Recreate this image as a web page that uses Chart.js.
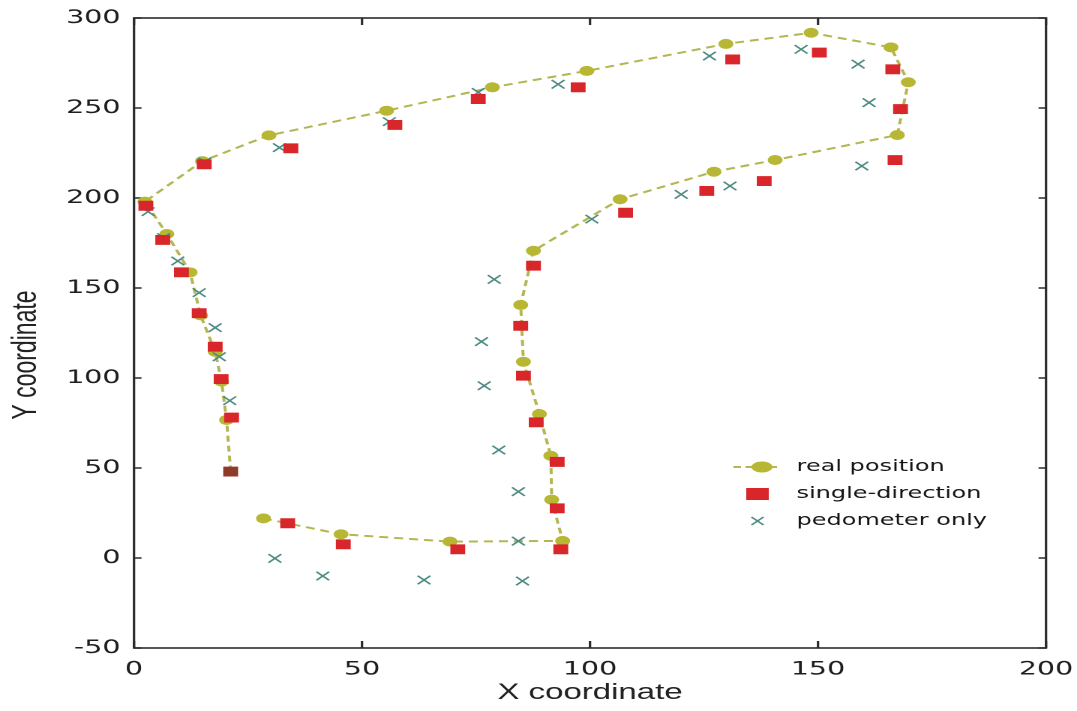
<!DOCTYPE html>
<html>
<head>
<meta charset="utf-8">
<script src="https://cdn.jsdelivr.net/npm/chart.js@4.4.1/dist/chart.umd.min.js"></script>
<style>
html, body { margin: 0; padding: 0; background: #fff; overflow: hidden; }
/* the reference picture is stretched sideways, so draw narrow and widen */
#wrap { position: absolute; left: 0; top: 0; width: 718px; height: 711px; transform: scaleX(1.5); transform-origin: 0 0; }
</style>
</head>
<body>
<div id="wrap"><canvas id="chart"></canvas></div>
<script>
var STRETCH = 1.5;

var seriesLabels = ['real position', 'single-direction', 'pedometer only'];
var xTitle = 'X coordinate';
var yTitle = 'Y coordinate';
var xTickValues = [0, 50, 100, 150, 200];
var yTickValues = [-50, 0, 50, 100, 150, 200, 250, 300];

// real path, in walking order
var realX = [21.2, 20.3, 19.2, 17.8, 14.6, 12.3, 7.2, 2.4, 15.0, 29.6, 55.4, 78.6, 99.3, 129.8, 148.5, 166.0,
             169.8, 167.4, 140.6, 127.2, 106.6, 87.6, 84.8, 85.4, 88.9, 91.4, 91.6, 94.0, 69.3, 45.4, 28.4];
var realY = [48, 76.7, 98, 114.6, 134.8, 158.7, 180, 198, 220.5, 234.8, 248.5, 261.5, 270.6, 285.6, 291.8, 283.7,
             264.3, 235, 221.1, 214.6, 199.3, 170.7, 140.6, 109, 80, 56.8, 32.4, 9.5, 9.1, 13.2, 22];

var singleX = [21.2, 21.4, 19.1, 17.8, 14.3, 10.4, 6.3, 2.6, 15.4, 34.4, 57.2, 75.5, 97.4, 131.3, 150.3, 166.4,
               168.1, 166.9, 138.2, 125.6, 107.8, 87.6, 84.8, 85.4, 88.2, 92.8, 92.8, 93.6, 71.0, 45.9, 33.7];
var singleY = [48, 78, 99.4, 117.4, 136, 158.7, 176.7, 195.7, 218.7, 227.6, 240.6, 255, 261.5, 277, 280.8, 271.5,
               249.4, 221.1, 209.4, 203.9, 191.8, 162.4, 129, 101.3, 75.4, 53.4, 27.6, 4.8, 4.8, 7.6, 19.3];

var pedoX = [21.2, 21.0, 18.7, 17.8, 14.3, 9.6, 6.5, 3.1, 15.5, 31.9, 56.0, 75.5, 93.0, 126.2, 146.3, 158.8,
             161.2, 159.6, 130.7, 120.0, 100.4, 79.0, 76.2, 76.8, 80.0, 84.3, 84.3, 85.2, 63.6, 41.4, 30.9];
var pedoY = [48, 87.4, 111.8, 128, 147.4, 165, 178, 192.4, 220, 228, 242.4, 258.7, 263.2, 278.9, 282.6, 274.4,
             253, 217.8, 206.7, 202, 188.3, 154.8, 120.2, 95.7, 60, 36.9, 9.4, -12.8, -12.2, -10, -0.2];

function points(xs, ys) {
    return xs.map(function (x, i) { return { x: x, y: ys[i] }; });
}

var frame = {
    id: 'frame',
    beforeDatasetsDraw: function (chart) {
        var a = chart.chartArea, ctx = chart.ctx;
        var xs = chart.scales.x, ys = chart.scales.y;
        ctx.save();
        ctx.strokeStyle = '#2b2b2b';
        ctx.lineWidth = 1.6;
        ctx.strokeRect(a.left, a.top, a.right - a.left, a.bottom - a.top);
        ctx.beginPath();
        xs.ticks.forEach(function (t) {
            var px = xs.getPixelForValue(t.value);
            ctx.moveTo(px, a.bottom); ctx.lineTo(px, a.bottom - 7);
            ctx.moveTo(px, a.top); ctx.lineTo(px, a.top + 7);
        });
        ys.ticks.forEach(function (t) {
            var py = ys.getPixelForValue(t.value);
            ctx.moveTo(a.left, py); ctx.lineTo(a.left + 5, py);
            ctx.moveTo(a.right, py); ctx.lineTo(a.right - 5, py);
        });
        ctx.stroke();

        // y title sits a bit below the axis middle in the reference
        ctx.save();
        ctx.translate(17.5, 355);
        ctx.rotate(-Math.PI / 2);
        ctx.fillStyle = '#222';
        ctx.font = '23px "Liberation Sans"';
        ctx.textAlign = 'center';
        ctx.textBaseline = 'middle';
        ctx.fillText(yTitle, 0, 0);
        ctx.restore();
        ctx.restore();
    },
    afterDraw: function (chart) {
        var ctx = chart.ctx, ds = chart.data.datasets;
        var rows = [467, 494, 521];
        ctx.save();
        // real position: dashed line with marker
        ctx.strokeStyle = ds[0].borderColor;
        ctx.lineWidth = 2;
        ctx.setLineDash([5, 3]);
        ctx.beginPath();
        ctx.moveTo(489, rows[0]); ctx.lineTo(519, rows[0]);
        ctx.stroke();
        ctx.setLineDash([]);
        ctx.fillStyle = ds[0].pointBackgroundColor;
        ctx.beginPath();
        ctx.ellipse(508, rows[0], 7, 5.5, 0, 0, Math.PI * 2);
        ctx.fill();
        // single-direction
        ctx.fillStyle = '#d8262b';
        ctx.fillRect(505 - 7.5, rows[1] - 6, 15, 12);
        // pedometer only
        ctx.strokeStyle = ds[2].pointBorderColor;
        ctx.lineWidth = 1.3;
        ctx.beginPath();
        ctx.moveTo(501, rows[2] - 4); ctx.lineTo(509, rows[2] + 4);
        ctx.moveTo(509, rows[2] - 4); ctx.lineTo(501, rows[2] + 4);
        ctx.stroke();
        ctx.fillStyle = '#151515';
        ctx.font = '16px "DejaVu Sans"';
        ctx.textBaseline = 'middle';
        ds.forEach(function (d, i) { ctx.fillText(d.label, 531, rows[i]); });
        ctx.restore();
    }
};

// keep the plot box where it is in the reference, whatever the labels need
function noScalePadding(s) {
    s.paddingLeft = 0; s.paddingRight = 0; s.paddingTop = 0; s.paddingBottom = 0;
}

new Chart(document.getElementById('chart'), {
    type: 'scatter',
    data: {
        datasets: [{
            label: seriesLabels[0],
            data: points(realX, realY),
            showLine: true,
            borderColor: '#b3b652',
            borderWidth: 2,
            borderDash: [6, 4],
            backgroundColor: '#b7b733',
            pointBackgroundColor: '#b7b733',
            pointBorderWidth: 0,
            pointRadius: 5,
            pointStyle: 'circle',
            order: 2
        }, {
            label: seriesLabels[1],
            data: points(singleX, singleY),
            pointStyle: 'rect',
            pointRadius: 7,
            pointBorderWidth: 0,
            pointBackgroundColor: function (c) { return c.dataIndex === 0 ? '#8e3b2c' : '#d8262b'; },
            backgroundColor: '#d8262b',
            order: 0
        }, {
            label: seriesLabels[2],
            data: points(pedoX, pedoY),
            pointStyle: 'crossRot',
            pointRadius: 6,
            pointBorderWidth: 1.4,
            pointBorderColor: '#4d8a82',
            borderColor: '#4d8a82',
            order: 1
        }]
    },
    options: {
        responsive: true,
        maintainAspectRatio: false,
        animation: false,
        devicePixelRatio: 2,
        events: [],
        layout: { padding: { top: 18, right: 1077 / STRETCH - 1046 / STRETCH, left: 0, bottom: 0 } },
        plugins: { legend: { display: false }, tooltip: { enabled: false } },
        scales: {
            x: {
                type: 'linear', min: 0, max: 200,
                afterBuildTicks: function (s) { s.ticks = xTickValues.map(function (v) { return { value: v }; }); },
                afterFit: function (s) { s.height = 63; noScalePadding(s); },
                grid: { display: false, drawTicks: false },
                border: { display: false },
                ticks: { font: { family: 'DejaVu Sans', size: 19 }, color: '#1e1e1e', padding: 10, maxRotation: 0, autoSkip: false },
                title: { display: true, text: xTitle, font: { family: 'Liberation Sans', size: 22 }, color: '#222', padding: { top: 0, bottom: 5 } }
            },
            y: {
                type: 'linear', min: -50, max: 300,
                afterBuildTicks: function (s) { s.ticks = yTickValues.map(function (v) { return { value: v }; }); },
                afterFit: function (s) { s.width = 134 / STRETCH; noScalePadding(s); },
                grid: { display: false, drawTicks: false },
                border: { display: false },
                ticks: { font: { family: 'DejaVu Sans', size: 19 }, color: '#1e1e1e', padding: 9, autoSkip: false },
                title: { display: false }
            }
        }
    },
    plugins: [frame]
});
</script>
</body>
</html>
